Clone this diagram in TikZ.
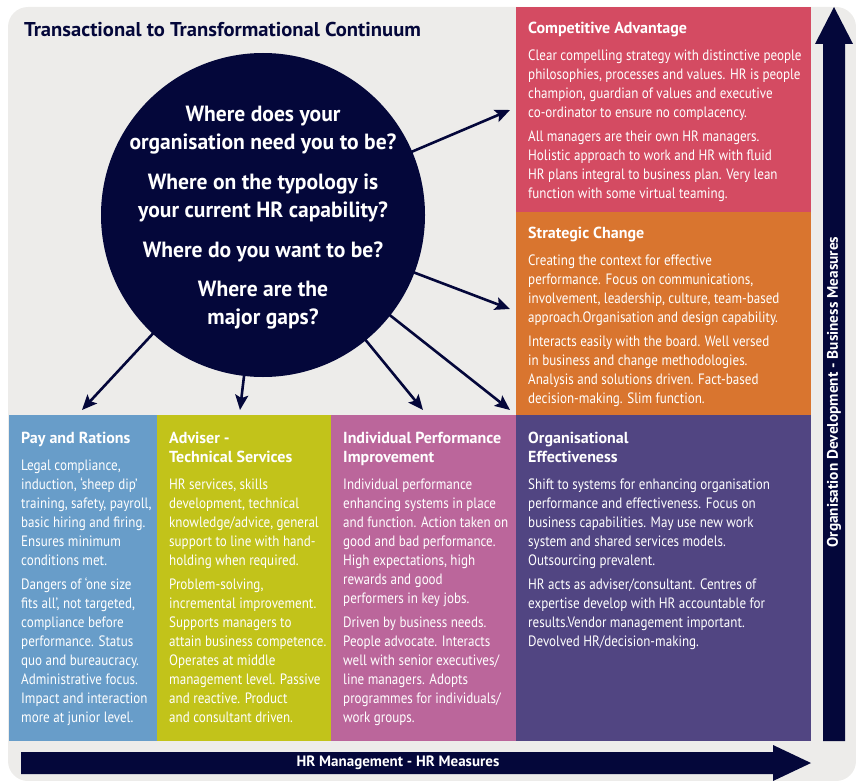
\documentclass[tikz,border=0pt]{standalone}
\usepackage{fontspec}
\setmainfont{PT Sans}
\newfontfamily\bodyfont[FakeStretch=0.87]{PT Sans}
\newfontfamily\circfont[FakeStretch=0.98]{PT Sans}
\newfontfamily\titlefont[FakeStretch=1.03]{PT Sans}
\usetikzlibrary{arrows.meta}

\definecolor{bggrey}{RGB}{237,236,234}
\definecolor{navy}{RGB}{4,7,58}
\definecolor{cared}{RGB}{212,75,98}
\definecolor{scorange}{RGB}{217,117,47}
\definecolor{prblue}{RGB}{104,157,201}
\definecolor{adyellow}{RGB}{194,195,26}
\definecolor{iprpink}{RGB}{187,102,155}
\definecolor{oepurple}{RGB}{81,69,130}

\newcommand\hd[1]{{\normalfont\bfseries\fontsize{16}{19}\selectfont #1}}

\begin{document}
\begin{tikzpicture}[x=1pt,y=-1pt,
  boxtxt/.style={anchor=north west, inner sep=0pt, align=left, text=white,
    font=\bodyfont\fontsize{15}{19}\selectfont},
  conn/.style={draw=navy, line width=2.6pt,
    -{Stealth[length=15pt,width=13pt,inset=3pt]}, shorten <=-1pt},
  bigarrow/.style={fill=navy},
  axislabel/.style={text=white, inner sep=0pt}]

\useasboundingbox (0,0) rectangle (856,781);

% background card
\fill[bggrey, rounded corners=20pt] (8,7) rectangle (856,781);

% title
\node[anchor=west, inner sep=0pt, text=navy,
  font=\titlefont\bfseries\fontsize{20}{23}\selectfont] (title) at (24,30)
  {Transactional to Transformational Continuum};

% coloured panels
\fill[cared]    (516,7)   rectangle (811,212);
\fill[scorange] (516,212) rectangle (811,416);
\fill[prblue]   (9,415)   rectangle (157,741);
\fill[adyellow] (157,415) rectangle (331,741);
\fill[iprpink]  (331,415) rectangle (516,741);
\fill[oepurple] (516,415) rectangle (811,741);

% panel texts
\node[boxtxt] (ca) at (528,22) {%
\hd{Competitive Advantage}\\[8pt]
Clear compelling strategy with distinctive people\\
philosophies, processes and values. HR is people\\
champion, guardian of values and executive\\
co-ordinator to ensure no complacency.\\[5pt]
All managers are their own HR managers.\\
Holistic approach to work and HR with fluid\\
HR plans integral to business plan. Very lean\\
function with some virtual teaming.};

\node[boxtxt] (sc) at (528,227) {%
\hd{Strategic Change}\\[8pt]
Creating the context for effective\\
performance. Focus on communications,\\
involvement, leadership, culture, team-based\\
approach.Organisation and design capability.\\[5pt]
Interacts easily with the board. Well versed\\
in business and change methodologies.\\
Analysis and solutions driven. Fact-based\\
decision-making. Slim function.};

\node[boxtxt] (pr) at (21,432) {%
\hd{Pay and Rations}\\[8pt]
Legal compliance,\\
induction, ‘sheep dip’\\
training, safety, payroll,\\
basic hiring and firing.\\
Ensures minimum\\
conditions met.\\[4.5pt]
Dangers of ‘one size\\
fits all’, not targeted,\\
compliance before\\
performance. Status\\
quo and bureaucracy.\\
Administrative focus.\\
Impact and interaction\\
more at junior level.};

\node[boxtxt] (ad) at (169,432) {%
\hd{Adviser -}\\
\hd{Technical Services}\\[8pt]
HR services, skills\\
development, technical\\
knowledge/advice, general\\
support to line with hand-\\
holding when required.\\[4.5pt]
Problem-solving,\\
incremental improvement.\\
Supports managers to\\
attain business competence.\\
Operates at middle\\
management level. Passive\\
and reactive. Product\\
and consultant driven.};

\node[boxtxt] (ip) at (343,432) {%
\hd{Individual Performance}\\
\hd{Improvement}\\[8pt]
Individual performance\\
enhancing systems in place\\
and function. Action taken on\\
good and bad performance.\\
High expectations, high\\
rewards and good\\
performers in key jobs.\\[4.5pt]
Driven by business needs.\\
People advocate. Interacts\\
well with senior executives/\\
line managers. Adopts\\
programmes for individuals/\\
work groups.};

\node[boxtxt] (oe) at (528,432) {%
\hd{Organisational}\\
\hd{Effectiveness}\\[8pt]
Shift to systems for enhancing organisation\\
performance and effectiveness. Focus on\\
business capabilities. May use new work\\
system and shared services models.\\
Outsourcing prevalent.\\[4.5pt]
HR acts as adviser/consultant. Centres of\\
expertise develop with HR accountable for\\
results.Vendor management important.\\
Devolved HR/decision-making.};

% central question circle
\node[circle, fill=navy, minimum size=324pt, inner sep=0pt] (c) at (263,215) {};
\node[text=white, align=center, inner sep=0pt,
  font=\circfont\bfseries\fontsize{22}{28}\selectfont] (cq) at (263,218) {%
Where does your\\
organisation need you to be?\\[12pt]
Where on the typology is\\
your current HR capability?\\[12pt]
Where do you want to be?\\[11pt]
Where are the\\
major gaps?};

% arrow targets
\coordinate (t1) at (510,110);
\coordinate (t2) at (510,309);
\coordinate (t3) at (510,410);
\coordinate (t4) at (423,410);
\coordinate (t5) at (240,410);
\coordinate (t6) at (82,410);

\foreach \t in {t1,t2,t3,t4,t5,t6}
  \draw[conn] (c) -- (\t);

% horizontal axis arrow
\fill[bigarrow] (21,752) -- (773,752) -- (773,745) -- (811,763)
  -- (773,781) -- (773,774) -- (21,774) -- cycle;
\node[axislabel, font=\bfseries\fontsize{15}{18}\selectfont] (hrm) at (398,763)
  {HR Management - HR Measures};

% vertical axis arrow
\fill[bigarrow] (823,741) -- (823,44) -- (815,44) -- (834,7)
  -- (853,44) -- (845,44) -- (845,741) -- cycle;
\node[axislabel, rotate=90, font=\bfseries\fontsize{15.3}{18}\selectfont]
  (odm) at (834,392) {Organisation Development - Business Measures};

\end{tikzpicture}
\end{document}
